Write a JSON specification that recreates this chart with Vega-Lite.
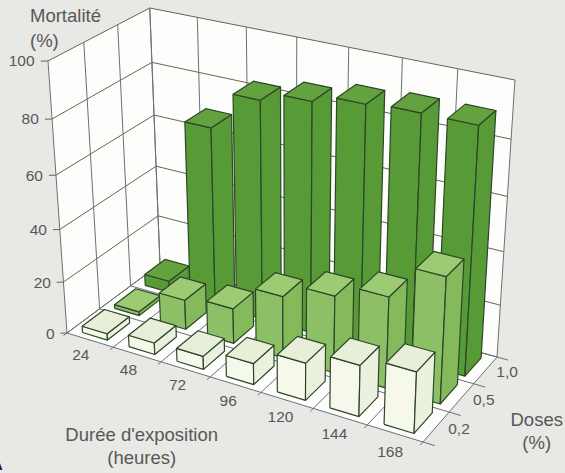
{
  "$schema": "https://vega.github.io/schema/vega-lite/v6.json",
  "width": 565,
  "height": 473,
  "padding": 0,
  "autosize": "none",
  "background": "#e8e8e4",
  "config": {"view": {"stroke": null}},
  "encoding": {
    "x": {"field": "px", "type": "quantitative", "axis": null, "scale": {"domain": [0, 565], "nice": false, "zero": false}},
    "y": {"field": "py", "type": "quantitative", "axis": null, "scale": {"domain": [473, 0], "nice": false, "zero": false}}
  },
  "layer": [
    {
      "data": {"values": [{"paroi": "gauche"}, {"paroi": "fond"}, {"paroi": "sol"}]},
      "transform": [
        {"calculate": "[0,1,2,3]", "as": "etapes"},
        {"flatten": ["etapes"], "as": ["k"]},
        {"calculate": "datum.paroi=='gauche'?0:[0,1,1,0][datum.k]", "as": "U"},
        {"calculate": "datum.paroi=='gauche'?[0,1,1,0][datum.k]:datum.paroi=='fond'?1:[0,0,1,1][datum.k]", "as": "V"},
        {"calculate": "datum.paroi=='sol'?0:[0,0,1,1][datum.k]", "as": "H"},
        {"calculate": "(67+312.84*datum.U+105.6*datum.V-22.75*datum.H)/(1-0.10204*datum.U+0.07878*datum.V-0.0782*datum.H)", "as": "px"},
        {"calculate": "(333+63.9*datum.U-48.2*datum.V-276.8*datum.H)/(1-0.10204*datum.U+0.07878*datum.V-0.0782*datum.H)", "as": "py"}
      ],
      "mark": {"type": "line", "fill": "#fdfdfb", "stroke": null, "interpolate": "linear"},
      "encoding": {"detail": {"field": "paroi"}, "order": {"field": "k", "type": "quantitative"}}
    },
    {
      "data": {"values": [
        {"axe": "mortalite", "rang": 0}, {"axe": "mortalite", "rang": 1}, {"axe": "mortalite", "rang": 2},
        {"axe": "mortalite", "rang": 3}, {"axe": "mortalite", "rang": 4}, {"axe": "mortalite", "rang": 5},
        {"axe": "duree", "rang": 0}, {"axe": "duree", "rang": 1}, {"axe": "duree", "rang": 2}, {"axe": "duree", "rang": 3},
        {"axe": "duree", "rang": 4}, {"axe": "duree", "rang": 5}, {"axe": "duree", "rang": 6}, {"axe": "duree", "rang": 7},
        {"axe": "dose", "rang": 0}, {"axe": "dose", "rang": 1}, {"axe": "dose", "rang": 2}, {"axe": "dose", "rang": 3}
      ]},
      "transform": [
        {"calculate": "[0,1,2,3]", "as": "etapes"},
        {"flatten": ["etapes"], "as": ["k"]},
        {"calculate": "datum.axe+datum.rang", "as": "trait"},
        {"calculate": "datum.axe=='mortalite'?[-0.0139,0,0,1][datum.k]:datum.axe=='duree'?datum.rang/7:[0,0,1,1.03][datum.k]", "as": "U"},
        {"calculate": "datum.axe=='mortalite'?[-0.022,0,1,1][datum.k]:datum.axe=='duree'?[1,1,0,-0.035][datum.k]:datum.rang/3", "as": "V"},
        {"calculate": "datum.axe=='mortalite'?datum.rang/5:[1,0,0,0][datum.k]", "as": "H"},
        {"calculate": "(67+312.84*datum.U+105.6*datum.V-22.75*datum.H)/(1-0.10204*datum.U+0.07878*datum.V-0.0782*datum.H)", "as": "px"},
        {"calculate": "(333+63.9*datum.U-48.2*datum.V-276.8*datum.H)/(1-0.10204*datum.U+0.07878*datum.V-0.0782*datum.H)", "as": "py"}
      ],
      "mark": {"type": "line", "strokeWidth": 1, "interpolate": "linear"},
      "encoding": {
        "detail": {"field": "trait"},
        "order": {"field": "k", "type": "quantitative"},
        "stroke": {"field": "axe", "type": "nominal", "legend": null, "scale": {"domain": ["mortalite", "duree", "dose"], "range": ["#5f6a4c", "#66727a", "#66727a"]}}
      }
    },
    {
      "data": {"values": [
        {"duree": 24, "dose": 1, "mortalite": 4.5}, {"duree": 48, "dose": 1, "mortalite": 68.5}, {"duree": 72, "dose": 1, "mortalite": 82.5},
        {"duree": 96, "dose": 1, "mortalite": 86}, {"duree": 120, "dose": 1, "mortalite": 89}, {"duree": 144, "dose": 1, "mortalite": 90}, {"duree": 168, "dose": 1, "mortalite": 90},
        {"duree": 24, "dose": 0.5, "mortalite": 1.5}, {"duree": 48, "dose": 0.5, "mortalite": 11.5}, {"duree": 72, "dose": 0.5, "mortalite": 13.5},
        {"duree": 96, "dose": 0.5, "mortalite": 23.5}, {"duree": 120, "dose": 0.5, "mortalite": 29}, {"duree": 144, "dose": 0.5, "mortalite": 34}, {"duree": 168, "dose": 0.5, "mortalite": 46.5},
        {"duree": 24, "dose": 0.2, "mortalite": 2.5}, {"duree": 48, "dose": 0.2, "mortalite": 4.5}, {"duree": 72, "dose": 0.2, "mortalite": 5},
        {"duree": 96, "dose": 0.2, "mortalite": 8}, {"duree": 120, "dose": 0.2, "mortalite": 14}, {"duree": 144, "dose": 0.2, "mortalite": 19}, {"duree": 168, "dose": 0.2, "mortalite": 22.5}
      ]},
      "transform": [
        {"calculate": "datum.duree/24-1", "as": "i"},
        {"calculate": "indexof([0.2,0.5,1],datum.dose)", "as": "j"},
        {"calculate": "(datum.i+0.23)/7", "as": "u0"},
        {"calculate": "(datum.i+0.77)/7", "as": "u1"},
        {"calculate": "datum.j/3+0.05", "as": "v0"},
        {"calculate": "datum.j/3+0.28", "as": "v1"},
        {"calculate": "datum.mortalite/100", "as": "h"},
        {"calculate": "['face','cote','dessus']", "as": "faces"},
        {"flatten": ["faces"], "as": ["pan"]},
        {"calculate": "[0,1,2,3,4]", "as": "etapes"},
        {"flatten": ["etapes"], "as": ["k"]},
        {"calculate": "datum.k%4", "as": "c"},
        {"calculate": "datum.dose+'-'+datum.duree+'-'+datum.pan", "as": "polygone"},
        {"calculate": "datum.dose+'-'+datum.pan", "as": "teinte"},
        {"calculate": "datum.pan=='cote'?datum.u1:[datum.u0,datum.u1,datum.u1,datum.u0][datum.c]", "as": "U"},
        {"calculate": "datum.pan=='face'?datum.v0:datum.pan=='cote'?[datum.v0,datum.v1,datum.v1,datum.v0][datum.c]:[datum.v0,datum.v0,datum.v1,datum.v1][datum.c]", "as": "V"},
        {"calculate": "datum.pan=='dessus'?datum.h:[0,0,datum.h,datum.h][datum.c]", "as": "H"},
        {"calculate": "(67+312.84*datum.U+105.6*datum.V-22.75*datum.H)/(1-0.10204*datum.U+0.07878*datum.V-0.0782*datum.H)", "as": "px"},
        {"calculate": "(333+63.9*datum.U-48.2*datum.V-276.8*datum.H)/(1-0.10204*datum.U+0.07878*datum.V-0.0782*datum.H)", "as": "py"}
      ],
      "mark": {"type": "line", "stroke": "#2d4628", "strokeWidth": 1.2, "strokeJoin": "round", "interpolate": "linear"},
      "encoding": {
        "detail": {"field": "polygone"},
        "order": {"field": "k", "type": "quantitative"},
        "fill": {
          "field": "teinte", "type": "nominal", "legend": null,
          "scale": {
            "domain": ["1-face", "1-cote", "1-dessus", "0.5-face", "0.5-cote", "0.5-dessus", "0.2-face", "0.2-cote", "0.2-dessus"],
            "range": ["#579a36", "#579a36", "#63a23e", "#8dc066", "#84ba5c", "#9ccb74", "#f5f8ea", "#ebf1df", "#e7efd9"]
          }
        }
      }
    },
    {
      "data": {"values": [
        {"axe": "mortalite", "rang": 0, "texte": "0"}, {"axe": "mortalite", "rang": 1, "texte": "20"}, {"axe": "mortalite", "rang": 2, "texte": "40"},
        {"axe": "mortalite", "rang": 3, "texte": "60"}, {"axe": "mortalite", "rang": 4, "texte": "80"}, {"axe": "mortalite", "rang": 5, "texte": "100"},
        {"axe": "duree", "rang": 0, "texte": "24"}, {"axe": "duree", "rang": 1, "texte": "48"}, {"axe": "duree", "rang": 2, "texte": "72"}, {"axe": "duree", "rang": 3, "texte": "96"},
        {"axe": "duree", "rang": 4, "texte": "120"}, {"axe": "duree", "rang": 5, "texte": "144"}, {"axe": "duree", "rang": 6, "texte": "168"},
        {"axe": "dose", "rang": 0, "texte": "0,2"}, {"axe": "dose", "rang": 1, "texte": "0,5"}, {"axe": "dose", "rang": 2, "texte": "1,0"},
        {"axe": "titreDuree", "rang": 0, "texte": "Durée d'exposition"}, {"axe": "titreDuree", "rang": 1, "texte": "(heures)"},
        {"axe": "titreDose", "rang": 0, "texte": "Doses"}, {"axe": "titreDose", "rang": 1, "texte": "(%)"},
        {"axe": "titreMortalite", "rang": 0, "texte": "Mortalité"}, {"axe": "titreMortalite", "rang": 1, "texte": "(%)"},
        {"axe": "panneau", "rang": 0, "texte": "A"}
      ]},
      "transform": [
        {"calculate": "datum.axe=='duree'?[(datum.rang+0.66)/7,-0.166,0]:datum.axe=='dose'?[1.05,(datum.rang+0.5)/3+0.04,0]:datum.axe=='mortalite'?[-0.0258,-0.041,datum.rang/5]:{titreDuree0:[0.4243,-0.6796,0],titreDuree1:[0.4759,-0.8584,0],titreDose0:[1.1924,0.4957,0],titreDose1:[1.228,0.2886,0],titreMortalite0:[-0.2278,0.5363,1],titreMortalite1:[-0.1183,0.2013,1],panneau0:[0.2165,-1.251,0]}[datum.axe+datum.rang]", "as": "ancre"},
        {"calculate": "datum.ancre[0]", "as": "U"},
        {"calculate": "datum.ancre[1]", "as": "V"},
        {"calculate": "datum.ancre[2]", "as": "H"},
        {"calculate": "(67+312.84*datum.U+105.6*datum.V-22.75*datum.H)/(1-0.10204*datum.U+0.07878*datum.V-0.0782*datum.H)", "as": "px"},
        {"calculate": "(333+63.9*datum.U-48.2*datum.V-276.8*datum.H)/(1-0.10204*datum.U+0.07878*datum.V-0.0782*datum.H)", "as": "py"}
      ],
      "encoding": {"text": {"field": "texte", "type": "nominal"}},
      "layer": [
        {
          "transform": [{"filter": "datum.axe=='duree'||datum.axe=='dose'"}],
          "mark": {"type": "text", "font": "Liberation Sans", "fontSize": 15.5, "fill": "#55585a", "align": "center", "baseline": "middle"}
        },
        {
          "transform": [{"filter": "datum.axe=='titreDuree'||datum.axe=='titreDose'"}],
          "mark": {"type": "text", "font": "Liberation Sans", "fontSize": 18.5, "fill": "#55585a", "align": "center", "baseline": "middle"}
        },
        {
          "transform": [{"filter": "datum.axe=='mortalite'"}],
          "mark": {"type": "text", "font": "Liberation Sans", "fontSize": 15.5, "fill": "#55585a", "align": "right", "baseline": "middle"}
        },
        {
          "transform": [{"filter": "datum.axe=='titreMortalite'"}],
          "mark": {"type": "text", "font": "Liberation Sans", "fontSize": 18.5, "fill": "#55585a", "align": "left", "baseline": "middle"}
        },
        {
          "transform": [{"filter": "datum.axe=='panneau'"}],
          "mark": {"type": "text", "font": "Liberation Sans", "fontSize": 22, "fontWeight": "bold", "fill": "#222222", "align": "right", "baseline": "middle"}
        }
      ]
    }
  ]
}
